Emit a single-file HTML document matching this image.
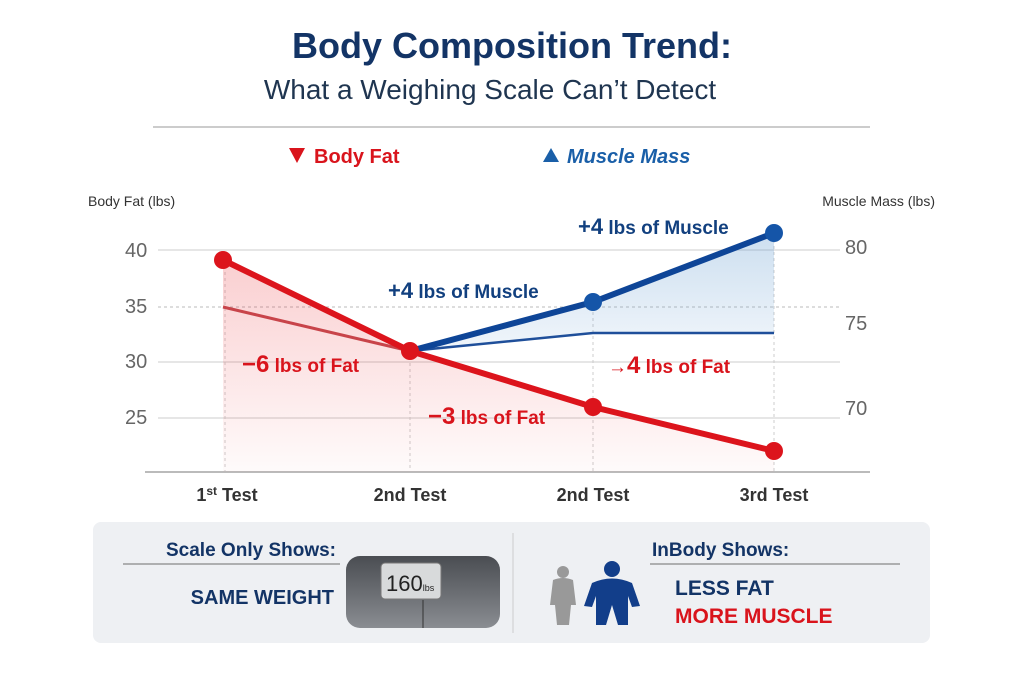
<!DOCTYPE html>
<html><head><meta charset="utf-8"><style>
body{margin:0;background:#fff;}
svg{display:block;font-family:"Liberation Sans",sans-serif;}
</style></head><body>
<svg width="1024" height="683" viewBox="0 0 1024 683">
<defs>
<linearGradient id="rf" x1="0" y1="0" x2="0" y2="1"><stop offset="0" stop-color="#e8232a" stop-opacity="0.22"/><stop offset="1" stop-color="#e8232a" stop-opacity="0.02"/></linearGradient>
<linearGradient id="bf" x1="0" y1="0" x2="0" y2="1"><stop offset="0" stop-color="#6fa3d4" stop-opacity="0.35"/><stop offset="1" stop-color="#6fa3d4" stop-opacity="0.1"/></linearGradient>
<linearGradient id="sc" x1="0" y1="0" x2="0" y2="1"><stop offset="0" stop-color="#4a4d52"/><stop offset="1" stop-color="#8a8d92"/></linearGradient>
</defs>
<text x="512" y="58" text-anchor="middle" font-size="36" font-weight="bold" fill="#133466">Body Composition Trend:</text>
<text x="490" y="99" text-anchor="middle" font-size="28" fill="#1f3550">What a Weighing Scale Can’t Detect</text>
<line x1="153" y1="127" x2="870" y2="127" stroke="#bbb" stroke-width="1.5"/>
<polygon points="289,148 305,148 297,163" fill="#d9141c"/>
<text x="314" y="163" font-size="20" font-weight="bold" fill="#d9141c">Body Fat</text>
<polygon points="543,162 559,162 551,148" fill="#1a5fa8"/>
<text x="567" y="163" font-size="20" font-weight="bold" font-style="italic" fill="#1a5fa8">Muscle Mass</text>
<text x="88" y="206" font-size="14" fill="#333">Body Fat (lbs)</text>
<text x="935" y="206" text-anchor="end" font-size="14" fill="#333">Muscle Mass (lbs)</text>
<g stroke="#ddd" stroke-width="1.5">
<line x1="158" y1="250" x2="840" y2="250"/><line x1="158" y1="362" x2="840" y2="362"/><line x1="158" y1="418" x2="840" y2="418"/>
</g>
<line x1="158" y1="307" x2="840" y2="307" stroke="#bbb" stroke-dasharray="3,3"/>
<g stroke="#ccc" stroke-dasharray="3,3"><line x1="225" y1="260" x2="225" y2="472"/><line x1="410" y1="351" x2="410" y2="472"/><line x1="593" y1="300" x2="593" y2="472"/><line x1="774" y1="240" x2="774" y2="472"/></g>
<line x1="145" y1="472" x2="870" y2="472" stroke="#bbb" stroke-width="2"/>
<g font-size="20" fill="#666"><text x="125" y="257">40</text><text x="125" y="313">35</text><text x="125" y="368">30</text><text x="125" y="424">25</text>
<text x="845" y="254">80</text><text x="845" y="330">75</text><text x="845" y="415">70</text></g>
<polygon points="223,260 410,351 593,407 774,451 774,472 223,472" fill="url(#rf)"/>
<polygon points="410,351 593,302 774,233 774,333 593,333" fill="url(#bf)"/>
<polyline points="223,307 410,351" fill="none" stroke="#c8444a" stroke-width="3"/>
<polyline points="410,351 593,333 774,333" fill="none" stroke="#1f4f9a" stroke-width="2.5"/>
<polyline points="410,351 593,302 774,233" fill="none" stroke="#0e4597" stroke-width="6"/>
<polyline points="223,260 410,351 593,407 774,451" fill="none" stroke="#dc141c" stroke-width="6"/>
<g fill="#dc141c"><circle cx="223" cy="260" r="9"/><circle cx="410" cy="351" r="9"/><circle cx="593" cy="407" r="9"/><circle cx="774" cy="451" r="9"/></g>
<g fill="#1555a8"><circle cx="593" cy="302" r="9"/><circle cx="774" cy="233" r="9"/></g>
<g font-weight="bold" font-size="19" fill="#12407f"><text x="578" y="234"><tspan font-size="22">+4</tspan> lbs of Muscle</text><text x="388" y="298"><tspan font-size="22">+4</tspan> lbs of Muscle</text></g>
<g font-weight="bold" font-size="19" fill="#d9141c"><text x="242" y="372"><tspan font-size="24">−6</tspan> lbs of Fat</text><text x="428" y="424"><tspan font-size="24">−3</tspan> lbs of Fat</text><text x="608" y="373">→<tspan font-size="24">4</tspan> lbs of Fat</text></g>
<g font-size="18" font-weight="bold" fill="#333" text-anchor="middle"><text x="227" y="501">1<tspan font-size="12" dy="-6">st</tspan><tspan dy="6"> Test</tspan></text><text x="410" y="501">2nd Test</text><text x="593" y="501">2nd Test</text><text x="774" y="501">3rd Test</text></g>
<rect x="93" y="522" width="837" height="121" rx="8" fill="#eef0f3"/>
<line x1="513" y1="533" x2="513" y2="633" stroke="#ccc"/>
<text x="336" y="556" text-anchor="end" font-size="19" font-weight="bold" fill="#133466">Scale Only Shows:</text>
<line x1="123" y1="564" x2="340" y2="564" stroke="#999" stroke-width="1.5"/>
<text x="334" y="604" text-anchor="end" font-size="20" font-weight="bold" fill="#133466">SAME WEIGHT</text>
<rect x="346" y="556" width="154" height="72" rx="14" fill="url(#sc)"/>
<line x1="423" y1="600" x2="423" y2="628" stroke="#333"/>
<rect x="381" y="563" width="60" height="36" rx="4" fill="#d8dadb" stroke="#777"/>
<text x="386" y="591" font-size="22" fill="#222">160<tspan font-size="9">lbs</tspan></text>
<g fill="#999"><circle cx="563" cy="572" r="6"/><path d="M553 580 Q563 576 573 580 L576 605 L571 605 L569 625 L557 625 L555 605 L550 605 Z"/></g>
<g fill="#123e8a"><circle cx="612" cy="569" r="8"/><path d="M592 583 Q612 574 632 583 L640 606 L632 607 L628 596 L628 625 L618 625 L612 605 L606 625 L596 625 L596 596 L592 607 L584 606 Z"/></g>
<text x="652" y="556" font-size="19" font-weight="bold" fill="#133466">InBody Shows:</text>
<line x1="650" y1="564" x2="900" y2="564" stroke="#999" stroke-width="1.5"/>
<text x="675" y="595" font-size="21" font-weight="bold" fill="#133466">LESS FAT</text>
<text x="675" y="623" font-size="21" font-weight="bold" fill="#d9141c">MORE MUSCLE</text>
</svg>
</body></html>
